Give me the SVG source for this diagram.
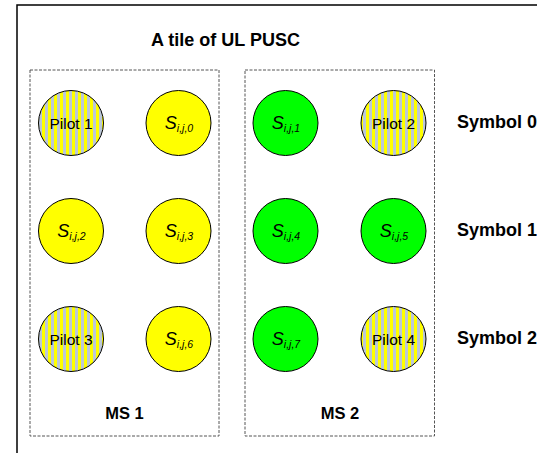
<svg xmlns="http://www.w3.org/2000/svg" width="537" height="453" viewBox="0 0 537 453">
<defs>
<pattern id="stripes" patternUnits="userSpaceOnUse" x="0" y="0" width="6" height="10">
<rect x="0" y="0" width="6" height="10" fill="#bcc8d8"/>
<rect x="0" y="0" width="3" height="10" fill="#ffff00"/>
</pattern>
<style>
.frame{fill:#fff;stroke:#000;stroke-width:1.5}
.box{fill:none;stroke:#555;stroke-width:1;stroke-dasharray:3,1.5}
.pilot{fill:url(#stripes);stroke:#000;stroke-width:1}
.y{fill:#ffff00;stroke:#000;stroke-width:1}
.g{fill:#00ff00;stroke:#000;stroke-width:1}
.lbl{font-family:"Liberation Sans",Arial,sans-serif;font-size:15.5px;fill:#000;text-anchor:middle}
.sym{font-family:"Liberation Sans",Arial,sans-serif;font-style:italic;font-size:18px;fill:#000;text-anchor:middle}
.sub{font-size:10.5px}
.bold{font-family:"Liberation Sans",Arial,sans-serif;font-weight:bold;fill:#000}
</style>
</defs>
<rect class="frame" x="17" y="5" width="600" height="500"/>
<text class="bold" x="151" y="46" font-size="18">A tile of UL PUSC</text>
<g id="connectors"></g>
<g id="ms1">
<rect class="box" x="30" y="70" width="189" height="366"/>
<text class="bold" x="124.5" y="419" font-size="16.5" text-anchor="middle">MS 1</text>
</g>
<g id="ms2">
<rect class="box" x="245" y="70" width="189.5" height="366"/>
<text class="bold" x="340" y="419" font-size="16.5" text-anchor="middle">MS 2</text>
</g>
<g id="pilot1"><circle class="pilot" cx="71" cy="123" r="32.5"/><text class="lbl" x="71" y="129">Pilot 1</text></g>
<g id="s0"><circle class="y" cx="178.5" cy="123" r="32.5"/><text class="sym" x="179" y="129">S<tspan class="sub" dy="3">i,j,0</tspan></text></g>
<g id="s1"><circle class="g" cx="285.5" cy="123" r="32.5"/><text class="sym" x="286" y="129">S<tspan class="sub" dy="3">i,j,1</tspan></text></g>
<g id="pilot2"><circle class="pilot" cx="393.5" cy="123" r="32.5"/><text class="lbl" x="393.5" y="129">Pilot 2</text></g>
<g id="s2"><circle class="y" cx="71" cy="231" r="32.5"/><text class="sym" x="71.5" y="237">S<tspan class="sub" dy="3">i,j,2</tspan></text></g>
<g id="s3"><circle class="y" cx="178.5" cy="231" r="32.5"/><text class="sym" x="179" y="237">S<tspan class="sub" dy="3">i,j,3</tspan></text></g>
<g id="s4"><circle class="g" cx="285.5" cy="231" r="32.5"/><text class="sym" x="286" y="237">S<tspan class="sub" dy="3">i,j,4</tspan></text></g>
<g id="s5"><circle class="g" cx="393.5" cy="231" r="32.5"/><text class="sym" x="394" y="237">S<tspan class="sub" dy="3">i,j,5</tspan></text></g>
<g id="pilot3"><circle class="pilot" cx="71" cy="339" r="32.5"/><text class="lbl" x="71" y="345">Pilot 3</text></g>
<g id="s6"><circle class="y" cx="178.5" cy="339" r="32.5"/><text class="sym" x="179" y="345">S<tspan class="sub" dy="3">i,j,6</tspan></text></g>
<g id="s7"><circle class="g" cx="285.5" cy="339" r="32.5"/><text class="sym" x="286" y="345">S<tspan class="sub" dy="3">i,j,7</tspan></text></g>
<g id="pilot4"><circle class="pilot" cx="393.5" cy="339" r="32.5"/><text class="lbl" x="393.5" y="345">Pilot 4</text></g>
<g id="symbols">
<text class="bold" x="457" y="128" font-size="18">Symbol 0</text>
<text class="bold" x="457" y="236" font-size="18">Symbol 1</text>
<text class="bold" x="457" y="344" font-size="18">Symbol 2</text>
</g>
</svg>
